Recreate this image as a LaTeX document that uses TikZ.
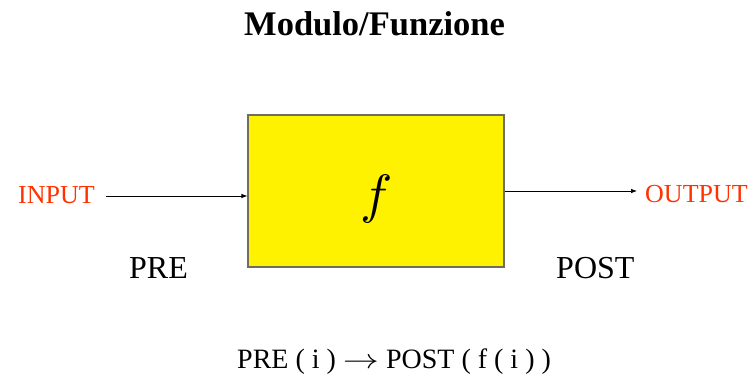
\documentclass[tikz,border=0pt]{standalone}
\usepackage{graphicx}
\usepackage{fontspec}
\setmainfont{Liberation Serif}
\usetikzlibrary{arrows.meta}
\definecolor{lab}{HTML}{FF3300}
\definecolor{boxline}{HTML}{6E6E5A}
\begin{document}
\begin{tikzpicture}[x=1pt,y=-1pt,
  lbl/.style={inner sep=0pt,anchor=base west},
  conn/.style={-{Latex[length=6pt,width=4.5pt]},line width=0.7pt}]
\useasboundingbox (0,0) rectangle (751,375);
\fill[white] (0,0) rectangle (751,375);
\node[draw=boxline,fill=yellow,line width=1.2pt,minimum width=256pt,minimum height=152pt,inner sep=0pt] (f) at (376,191) {};
\node[inner sep=0pt] (fl) at (377,199) {\scalebox{5.4}{$f$}};
\node[lbl] (title) at (244,35) {\fontsize{34.5}{36}\selectfont\bfseries Modulo/Funzione};
\node[lbl,text=lab] (in) at (18,203) {\fontsize{26}{28}\selectfont INPUT};
\node[lbl,text=lab] (out) at (645,202) {\fontsize{26}{28}\selectfont OUTPUT};
\node[lbl] (pre) at (129,278) {\fontsize{32}{34}\selectfont PRE};
\node[lbl] (post) at (556,278) {\fontsize{32}{34}\selectfont POST};
\node[lbl] (form) at (237,368) {\fontsize{28}{30}\selectfont PRE ( i ) \scalebox{1.45}[1.1]{$\rightarrow$} POST ( f ( i ) )};
\coordinate (a1) at (106,196);
\coordinate (b1) at (637,191);
\draw[conn] (a1) -- (f.west |- a1);
\draw[conn] (f.east |- b1) -- (b1);
\end{tikzpicture}
\end{document}
